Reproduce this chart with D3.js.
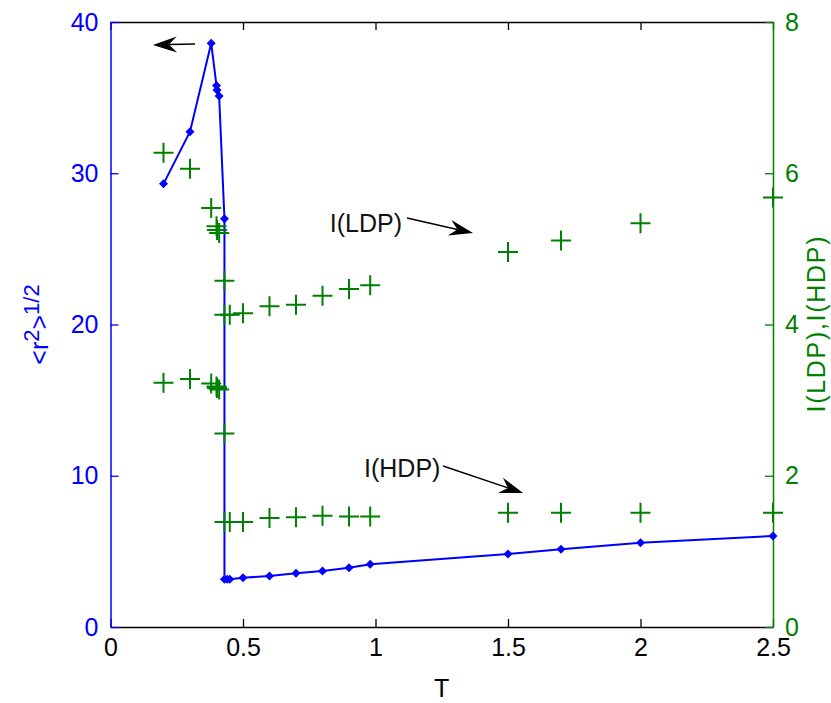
<!DOCTYPE html>
<html>
<head>
<meta charset="utf-8">
<script src="https://cdn.jsdelivr.net/npm/d3@7"></script>
<style>
  body { margin: 0; background: #fff; }
  text { font-family: "Liberation Sans", Arial, sans-serif; }
</style>
</head>
<body>
<div id="chart"></div>
<script>
// <r^2>^1/2 (left axis)
const tRms = [0.2, 0.3, 0.38, 0.4, 0.402, 0.41, 0.43, 0.43, 0.44, 0.45, 0.5, 0.6, 0.7, 0.8, 0.9, 0.98, 1.5, 1.7, 2.0, 2.5];
const rms = [29.3, 32.75, 38.6, 35.8, 35.5, 35.1, 27.0, 3.15, 3.15, 3.15, 3.26, 3.37, 3.55, 3.70, 3.92, 4.15, 4.83, 5.14, 5.57, 6.02];

// I(LDP), I(HDP) (right axis)
const tI = [0.2, 0.3, 0.38, 0.4, 0.402, 0.41, 0.43, 0.43, 0.45, 0.5, 0.6, 0.7, 0.8, 0.9, 0.98, 1.5, 1.7, 2.0, 2.5];
const iLDP = [6.27, 6.06, 5.54, 5.30, 5.25, 5.21, 4.58, 4.13, 4.13, 4.15, 4.24, 4.26, 4.38, 4.47, 4.52, 4.96, 5.11, 5.34, 5.68];
const iHDP = [3.23, 3.28, 3.22, 3.18, 3.16, 3.14, 2.56, 1.39, 1.39, 1.39, 1.44, 1.45, 1.47, 1.46, 1.46, 1.51, 1.51, 1.51, 1.51];

const xTicks = [0, 0.5, 1, 1.5, 2, 2.5];
const leftTicks = [0, 10, 20, 30, 40];
const rightTicks = [0, 2, 4, 6, 8];

const width = 831;
const height = 703;
const plotLeft = 110.5, plotRight = 773, plotTop = 22, plotBottom = 627;
const blue = "#0000ff";
const green = "#008000";
const fontSize = 25;

const svg = d3.select("#chart")
    .append("svg")
    .attr("width", width)
    .attr("height", height);

const x = d3.scaleLinear().domain([0, 2.5]).range([plotLeft, plotRight]);
const yL = d3.scaleLinear().domain([0, 40]).range([plotBottom, plotTop]);
const yR = d3.scaleLinear().domain([0, 8]).range([plotBottom, plotTop]);

function styleAxis(g, color) {
    g.select(".domain").attr("stroke", color).attr("stroke-width", 1.5);
    g.selectAll(".tick line").attr("stroke", color).attr("stroke-width", 1.3);
    g.selectAll(".tick text").attr("fill", color).style("font-size", fontSize + "px");
}

// axes
svg.append("g")
    .attr("transform", `translate(0,${plotBottom})`)
    .call(d3.axisBottom(x).tickValues(xTicks).tickFormat(d3.format("")).tickSize(-8).tickSizeOuter(0).tickPadding(11))
    .call(g => styleAxis(g, "#000"));

svg.append("g")
    .attr("transform", `translate(0,${plotTop})`)
    .call(d3.axisTop(x).tickValues(xTicks).tickFormat("").tickSize(-8).tickSizeOuter(0))
    .call(g => styleAxis(g, "#000"));

svg.append("g")
    .attr("transform", `translate(${plotLeft},0)`)
    .call(d3.axisLeft(yL).tickValues(leftTicks).tickSize(-8).tickSizeOuter(0).tickPadding(12))
    .call(g => styleAxis(g, blue));

svg.append("g")
    .attr("transform", `translate(${plotRight},0)`)
    .call(d3.axisRight(yR).tickValues(rightTicks).tickSize(-8).tickSizeOuter(0).tickPadding(12))
    .call(g => styleAxis(g, green));

// axis labels
svg.append("text")
    .attr("x", (plotLeft + plotRight) / 2)
    .attr("y", 697)
    .attr("text-anchor", "middle")
    .style("font-size", fontSize + "px")
    .text("T");

const yl = svg.append("text")
    .attr("transform", `translate(48,${(plotTop + plotBottom) / 2}) rotate(-90)`)
    .attr("text-anchor", "middle")
    .attr("fill", blue)
    .style("font-size", fontSize + "px");
yl.append("tspan").text("<r");
yl.append("tspan").attr("dy", -9).style("font-size", "22px").text("2");
yl.append("tspan").attr("dy", 9).text(">");
yl.append("tspan").attr("dy", -9).style("font-size", "22px").text("1/2");

svg.append("text")
    .attr("transform", `translate(825,${(plotTop + plotBottom) / 2}) rotate(-90)`)
    .attr("text-anchor", "middle")
    .attr("fill", green)
    .attr("textLength", 176)
    .attr("lengthAdjust", "spacing")
    .style("font-size", fontSize + "px")
    .text("I(LDP),I(HDP)");

// blue line with diamonds
const rmsData = tRms.map((t, i) => [t, rms[i]]);
svg.append("path")
    .datum(rmsData)
    .attr("fill", "none")
    .attr("stroke", blue)
    .attr("stroke-width", 2)
    .attr("d", d3.line().x(d => x(d[0])).y(d => yL(d[1])));

svg.selectAll(".diamond")
    .data(rmsData)
    .join("path")
    .attr("class", "diamond")
    .attr("d", "M0,-4.5L4.5,0L0,4.5L-4.5,0Z")
    .attr("transform", d => `translate(${x(d[0])},${yL(d[1])})`)
    .attr("fill", blue);

// green plus markers
const plusData = tI.map((t, i) => [t, iLDP[i]]).concat(tI.map((t, i) => [t, iHDP[i]]));
svg.selectAll(".plus")
    .data(plusData)
    .join("path")
    .attr("class", "plus")
    .attr("d", "M-10,0H10M0,-10V10")
    .attr("transform", d => `translate(${x(d[0])},${yR(d[1])})`)
    .attr("stroke", green)
    .attr("stroke-width", 2)
    .attr("fill", "none");

// annotations
function arrow(x1, y1, x2, y2) {
    const a = Math.atan2(y2 - y1, x2 - x1);
    const L = 24, W = 8, N = 16;
    const cos = Math.cos(a), sin = Math.sin(a);
    const pt = (l, w) => [x2 - l * cos - w * sin, y2 - l * sin + w * cos];
    svg.append("line")
        .attr("x1", x1).attr("y1", y1)
        .attr("x2", pt(N, 0)[0]).attr("y2", pt(N, 0)[1])
        .attr("stroke", "#000").attr("stroke-width", 1.5);
    svg.append("path")
        .attr("d", "M" + [[x2, y2], pt(L, W), pt(N, 0), pt(L, -W)].join("L") + "Z")
        .attr("fill", "#000");
}

arrow(x(0.319), yL(38.55), x(0.16), yL(38.48));

svg.append("text")
    .attr("x", x(1.1)).attr("y", yL(26.7))
    .attr("text-anchor", "end").attr("dy", "0.35em")
    .style("font-size", fontSize + "px").attr("fill", "#111")
    .text("I(LDP)");
arrow(x(1.119), yL(27.04), x(1.368), yL(26.05));

svg.append("text")
    .attr("x", x(1.245)).attr("y", yL(10.5))
    .attr("text-anchor", "end").attr("dy", "0.35em")
    .style("font-size", fontSize + "px").attr("fill", "#111")
    .text("I(HDP)");
arrow(x(1.255), yL(10.64), x(1.557), yL(8.86));
</script>
</body>
</html>
